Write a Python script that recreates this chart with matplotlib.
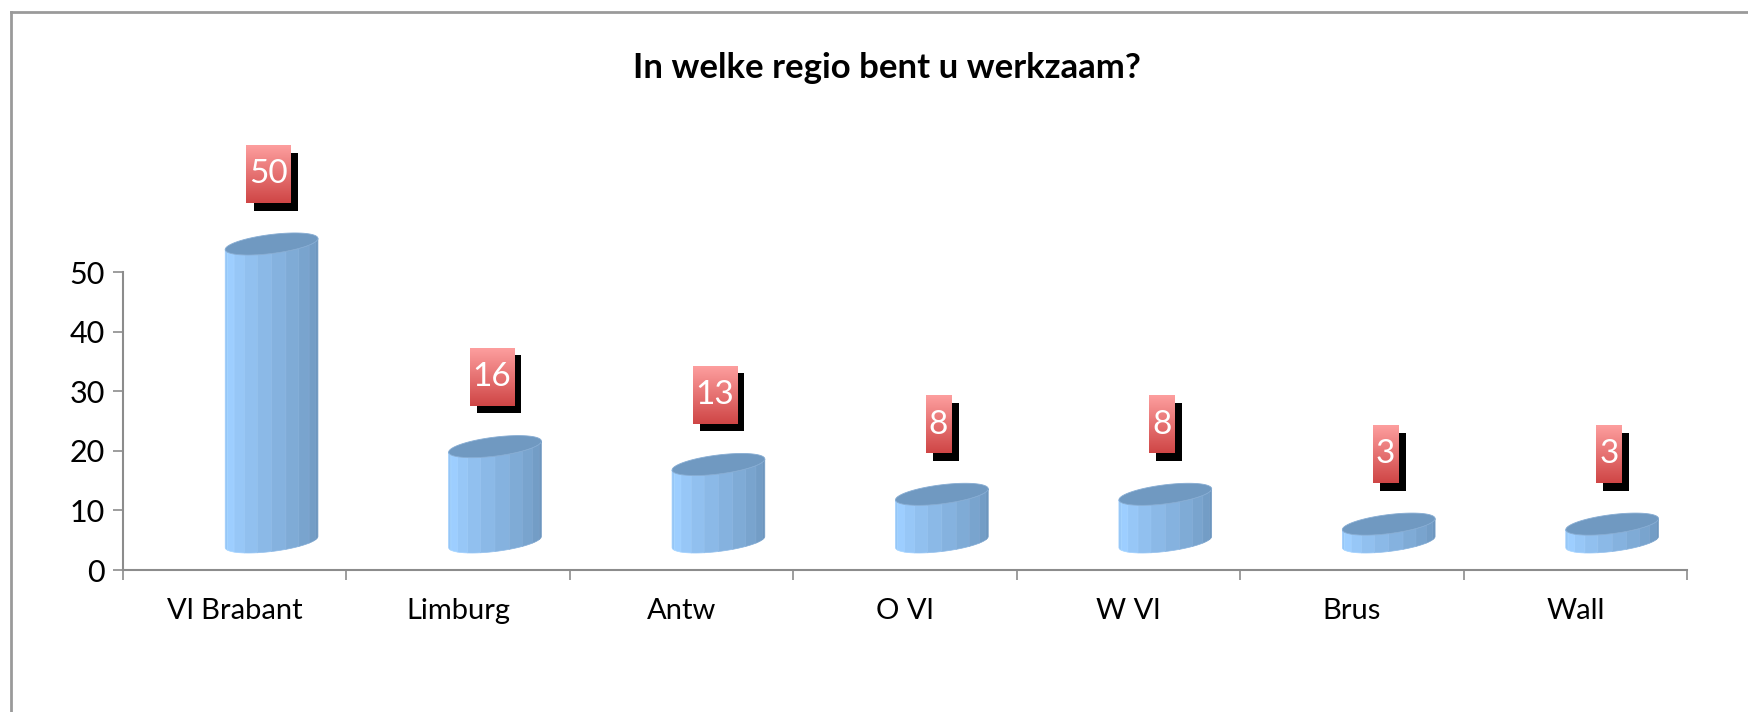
import matplotlib.pyplot as plt
import numpy as np
from matplotlib.patches import Polygon, Rectangle
from matplotlib.lines import Line2D
from matplotlib.colors import to_rgb

# Data
regios = ['Vl Brabant', 'Limburg', 'Antw', 'O Vl', 'W Vl', 'Brus', 'Wall']
aantallen = [50, 16, 13, 8, 8, 3, 3]
y_ticks = [0, 10, 20, 30, 40, 50]
titel = 'In welke regio bent u werkzaam?'

plt.rcParams['font.family'] = ['Lato', 'DejaVu Sans']

LICHT = np.array(to_rgb('#9DCEFF'))
DONKER = np.array(to_rgb('#6A92BA'))
TOP_KLEUR = '#7099C1'


def schaduw_kleur(u):
    # u loopt van 0 (links) naar 1 (rechts) over de voorkant van de cilinder
    if u < 0.15:
        f = 0.8 + 0.2 * u / 0.15
    else:
        f = 1.0 - (u - 0.15) / 0.85
    return DONKER + (LICHT - DONKER) * f


def teken_cilinder(ax, xc, waarde, a=0.2075, b=1.6, s=0.93, basis=4.7, n=10):
    top = basis + waarde
    grenzen = np.linspace(np.pi, 2 * np.pi, n + 1)
    for k in range(n):
        t = np.linspace(grenzen[k], grenzen[k + 1], 6)
        xs = xc + a * np.cos(t)
        onder = basis + b * np.sin(t) + s * np.cos(t)
        boven = top + b * np.sin(t) + s * np.cos(t)
        pts = np.column_stack([np.r_[xs, xs[::-1]], np.r_[onder, boven[::-1]]])
        kleur = schaduw_kleur((k + 0.5) / n)
        ax.add_patch(Polygon(pts, closed=True, facecolor=kleur,
                             edgecolor=np.clip(kleur + 0.03, 0, 1),
                             linewidth=0.5, zorder=3))
    t = np.linspace(0, 2 * np.pi, 120)
    pts = np.column_stack([xc + a * np.cos(t),
                           top + b * np.sin(t) + s * np.cos(t)])
    ax.add_patch(Polygon(pts, closed=True, facecolor=TOP_KLEUR,
                         edgecolor='#86ACD3', linewidth=0.6, zorder=4))


def teken_label(ax, xc, waarde, hoogte=9.7):
    tekst = str(waarde)
    breedte = 0.033 + 0.082 * len(tekst)
    yc = waarde + 16.4
    # zwarte schaduw
    ax.add_patch(Rectangle((xc - breedte / 2 + 0.033, yc - hoogte / 2 - 1.25),
                           breedte, hoogte, facecolor='black',
                           edgecolor='none', zorder=5))
    # verloop van roze naar rood
    grad = np.linspace(0, 1, 64).reshape(-1, 1)
    c1 = np.array(to_rgb('#FD9E9E'))
    c2 = np.array(to_rgb('#CF4646'))
    img = c1 + (c2 - c1) * grad[..., None]
    ax.imshow(img, extent=(xc - breedte / 2, xc + breedte / 2,
                           yc - hoogte / 2, yc + hoogte / 2),
              origin='upper', aspect='auto', zorder=6)
    ax.text(xc, yc, tekst, color='white', fontsize=24,
            ha='center', va='center', zorder=7)


fig = plt.figure(figsize=(17.49, 7.12), dpi=100)
ax = fig.add_axes([123 / 1749, 142 / 712, 1564 / 1749, 75 * 5.96 / 712])

x = np.arange(len(regios))
for xi, v in zip(x, aantallen):
    teken_cilinder(ax, xi + 0.165, v)
    teken_label(ax, xi + 0.15, v)

ax.set_xlim(-0.5, len(regios) - 0.5)
ax.set_ylim(0, 75)

for kant in ['top', 'right']:
    ax.spines[kant].set_visible(False)
for kant in ['left', 'bottom']:
    ax.spines[kant].set_color('#8C8C8C')
    ax.spines[kant].set_linewidth(1.5)
ax.spines['left'].set_bounds(0, 50)

ax.set_yticks(y_ticks)
ax.set_yticklabels([str(t) for t in y_ticks], fontsize=22)
ax.set_xticks(x)
ax.set_xticklabels(regios, fontsize=21)
ax.set_xticks(np.arange(len(regios) + 1) - 0.5, minor=True)
ax.tick_params(axis='x', which='major', length=0, pad=20)
ax.tick_params(axis='x', which='minor', length=7, color='#8C8C8C', width=1.2)
ax.tick_params(axis='y', length=7, color='#8C8C8C', width=1.2, pad=6)

fig.text(0.507, 0.905, titel, fontsize=25, fontweight='bold',
         ha='center', va='center')

# rand om de grafiek
fig.add_artist(Line2D([11 / 1749, 1], [1 - 12 / 712, 1 - 12 / 712],
                      transform=fig.transFigure, color='#9A9A9A', linewidth=2))
fig.add_artist(Line2D([11 / 1749, 11 / 1749], [0, 1 - 12 / 712],
                      transform=fig.transFigure, color='#9A9A9A', linewidth=2))

plt.savefig('out.png', dpi=100)
plt.close()
